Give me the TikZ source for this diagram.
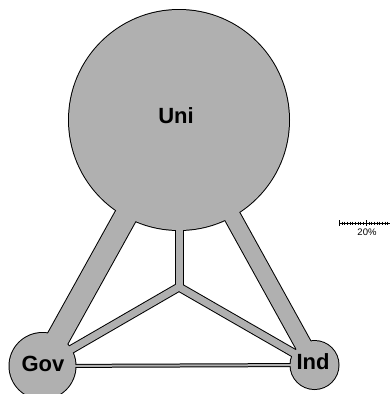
\documentclass[tikz,border=0pt]{standalone}
\usepackage{fontspec}
\setmainfont{Liberation Sans}
\usetikzlibrary{backgrounds}

\colorlet{blobgray}{black!31}
\tikzset{
  actor/.style={inner sep=0pt,font=\fontsize{22}{22}\selectfont\bfseries},
  rim/.style={line width=#1,line cap=round},
  flow/.style={blobgray,line width=#1,line cap=round},
}

\begin{document}
\begin{tikzpicture}[x=1pt,y=-1pt]
    \useasboundingbox (0,0) rectangle (390,394);

    \coordinate (uniC) at (179,120);
    \coordinate (govC) at (42.5,366);
    \coordinate (indC) at (314.5,365);
    \coordinate (hub) at (179,287);

    \node (uni) [actor] at (176,116) {Uni};
    \node (gov) [actor] at (43,364) {Gov};
    \node (ind) [actor] at (313,362) {Ind};

    \begin{scope}[on background layer]
      % black rims first
      \foreach \a/\b/\w in {uniC/govC/24pt, uniC/indC/18pt, uniC/hub/9pt, hub/govC/9pt, hub/indC/9pt, govC/indC/4pt}
        \draw[rim=\w] (\a) -- (\b);
      \fill (uniC) circle (111pt) (govC) circle (34pt) (indC) circle (25pt);
      % grey on top
      \foreach \a/\b/\w in {uniC/govC/22pt, uniC/indC/16pt, uniC/hub/7pt, hub/govC/7pt, hub/indC/7pt, govC/indC/2pt}
        \draw[flow=\w] (\a) -- (\b);
      \fill[blobgray] (uniC) circle (110pt) (govC) circle (33pt) (indC) circle (24pt);
    \end{scope}

    % scale bar
    \coordinate (barL) at (339,223);
    \coordinate (barR) at (393,223);
    \draw[line width=0.6pt] (barL) -- (barR);
    \foreach \x in {341.7,344.4,...,392}
      \draw[line width=0.4pt] (\x,221.5) -- (\x,224.5);
    \foreach \x in {339,366}
      \draw[line width=0.6pt] (\x,220) -- (\x,226);
    \node (barlbl) [inner sep=0pt,font=\fontsize{9.5}{9.5}\selectfont] at (367,232) {20\%};
\end{tikzpicture}
\end{document}
